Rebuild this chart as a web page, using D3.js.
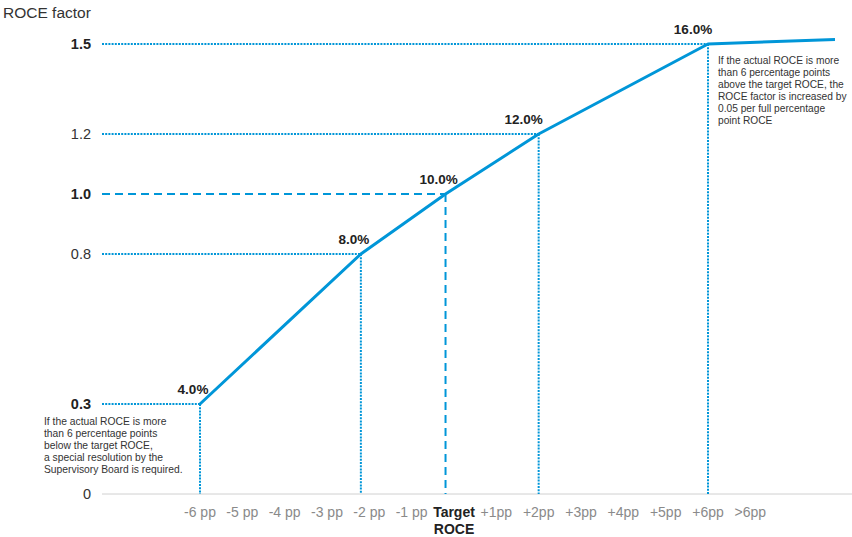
<!DOCTYPE html>
<html>
<head>
<meta charset="utf-8">
<script src="https://cdn.jsdelivr.net/npm/d3@7"></script>
<style>
  html, body { margin: 0; padding: 0; background: #fff; }
  svg { display: block; font-family: "Liberation Sans", Arial, sans-serif; }
</style>
</head>
<body>
<svg id="chart" width="852" height="537"></svg>
<script>
// ---- data ----
const xTickLabels = ["-6 pp", "-5 pp", "-4 pp", "-3 pp", "-2 pp", "-1 pp", "Target", "+1pp", "+2pp", "+3pp", "+4pp", "+5pp", "+6pp", ">6pp"];
const xTickOffsets = [-6, -5, -4, -3, -2, -1, 0, 1, 2, 3, 4, 5, 6, 7];
// deviation from target ROCE (pp, as drawn) and ROCE factor
const pointPP     = [-6, -2.2, -0.2, 2, 6, 9];
const pointFactor = [0.3, 0.8, 1.0, 1.2, 1.5, 1.515];
const pointLabels = ["4.0%", "8.0%", "10.0%", "12.0%", "16.0%", ""];
const refStyle    = ["dot", "dot", "dash", "dot", "dot", "none"];
const yTickValues = [0, 0.3, 0.8, 1.0, 1.2, 1.5];
const yTickLabels = ["0", "0.3", "0.8", "1.0", "1.2", "1.5"];
const yTickBold   = [false, true, false, true, false, true];
const noteLow  = ["If the actual ROCE is more", "than 6 percentage points", "below the target ROCE,", "a special resolution by the", "Supervisory Board is required."];
const noteHigh = ["If the actual ROCE is more", "than 6 percentage points", "above the target ROCE, the", "ROCE factor is increased by", "0.05 per full percentage", "point ROCE"];

// ---- drawing ----
const svg = d3.select("#chart");
const blue = "#0096d8";
const x = d3.scaleLinear().domain([-6, 6]).range([200, 708]);
const y = d3.scaleLinear().domain([0, 1.5]).range([494, 44]);
const xLeft = 102;

// title
svg.append("text").attr("x", 3).attr("y", 18)
  .attr("font-size", 15.5).attr("fill", "#333").text("ROCE factor");

// baseline axis
svg.append("line").attr("x1", xLeft).attr("x2", 852).attr("y1", y(0)).attr("y2", y(0))
  .attr("stroke", "#d0d0d0").attr("stroke-width", 1);

// y tick labels
svg.selectAll("text.ytick").data(yTickValues).enter().append("text")
  .attr("class", "ytick")
  .attr("x", 91).attr("y", d => y(d) + 5)
  .attr("text-anchor", "end")
  .attr("font-size", 14.5)
  .attr("font-weight", (d, i) => yTickBold[i] ? "bold" : "normal")
  .attr("fill", (d, i) => yTickBold[i] ? "#222" : "#333")
  .text((d, i) => yTickLabels[i]);

// reference lines
const pts = pointPP.map((p, i) => ({ p, f: pointFactor[i], label: pointLabels[i], style: refStyle[i] }));
pts.filter(d => d.style !== "none").forEach(d => {
  const dash = d.style === "dash" ? "8,5" : "2,1.2";
  svg.append("line")
    .attr("x1", xLeft).attr("x2", x(d.p)).attr("y1", y(d.f)).attr("y2", y(d.f))
    .attr("stroke", blue).attr("stroke-width", 2).attr("stroke-dasharray", dash);
  svg.append("line")
    .attr("x1", x(d.p)).attr("x2", x(d.p)).attr("y1", y(d.f)).attr("y2", y(0))
    .attr("stroke", blue).attr("stroke-width", 2).attr("stroke-dasharray", dash);
});

// main line
svg.append("path")
  .datum(pts)
  .attr("d", d3.line().x(d => x(d.p)).y(d => y(d.f)))
  .attr("fill", "none").attr("stroke", blue).attr("stroke-width", 3)
  .attr("stroke-linejoin", "round");

// point labels
svg.selectAll("text.plabel").data(pts.filter(d => d.label)).enter().append("text")
  .attr("class", "plabel")
  .attr("x", (d, i) => x(d.p) - (i >= 3 ? 15 : 7))
  .attr("y", d => y(d.f) - 10)
  .attr("text-anchor", "middle")
  .attr("font-size", 13.5).attr("font-weight", "bold").attr("fill", "#222")
  .text(d => d.label);

// x tick labels
svg.selectAll("text.xtick").data(xTickOffsets).enter().append("text")
  .attr("class", "xtick")
  .attr("x", d => x(d))
  .attr("y", 517)
  .attr("text-anchor", "middle")
  .attr("font-size", 14)
  .attr("font-weight", d => d === 0 ? "bold" : "normal")
  .attr("fill", d => d === 0 ? "#222" : "#8a8a8a")
  .text((d, i) => xTickLabels[i]);
svg.append("text").attr("x", x(0)).attr("y", 534)
  .attr("text-anchor", "middle").attr("font-size", 14).attr("font-weight", "bold")
  .attr("fill", "#222").text("ROCE");

// notes
const low = svg.append("text").attr("font-size", 10.3).attr("fill", "#333");
noteLow.forEach((t, i) => low.append("tspan").attr("x", 44).attr("y", 425 + i * 12).text(t));
const high = svg.append("text").attr("font-size", 10.2).attr("fill", "#333");
noteHigh.forEach((t, i) => high.append("tspan").attr("x", 718).attr("y", 64 + i * 12).text(t));
</script>
</body>
</html>
